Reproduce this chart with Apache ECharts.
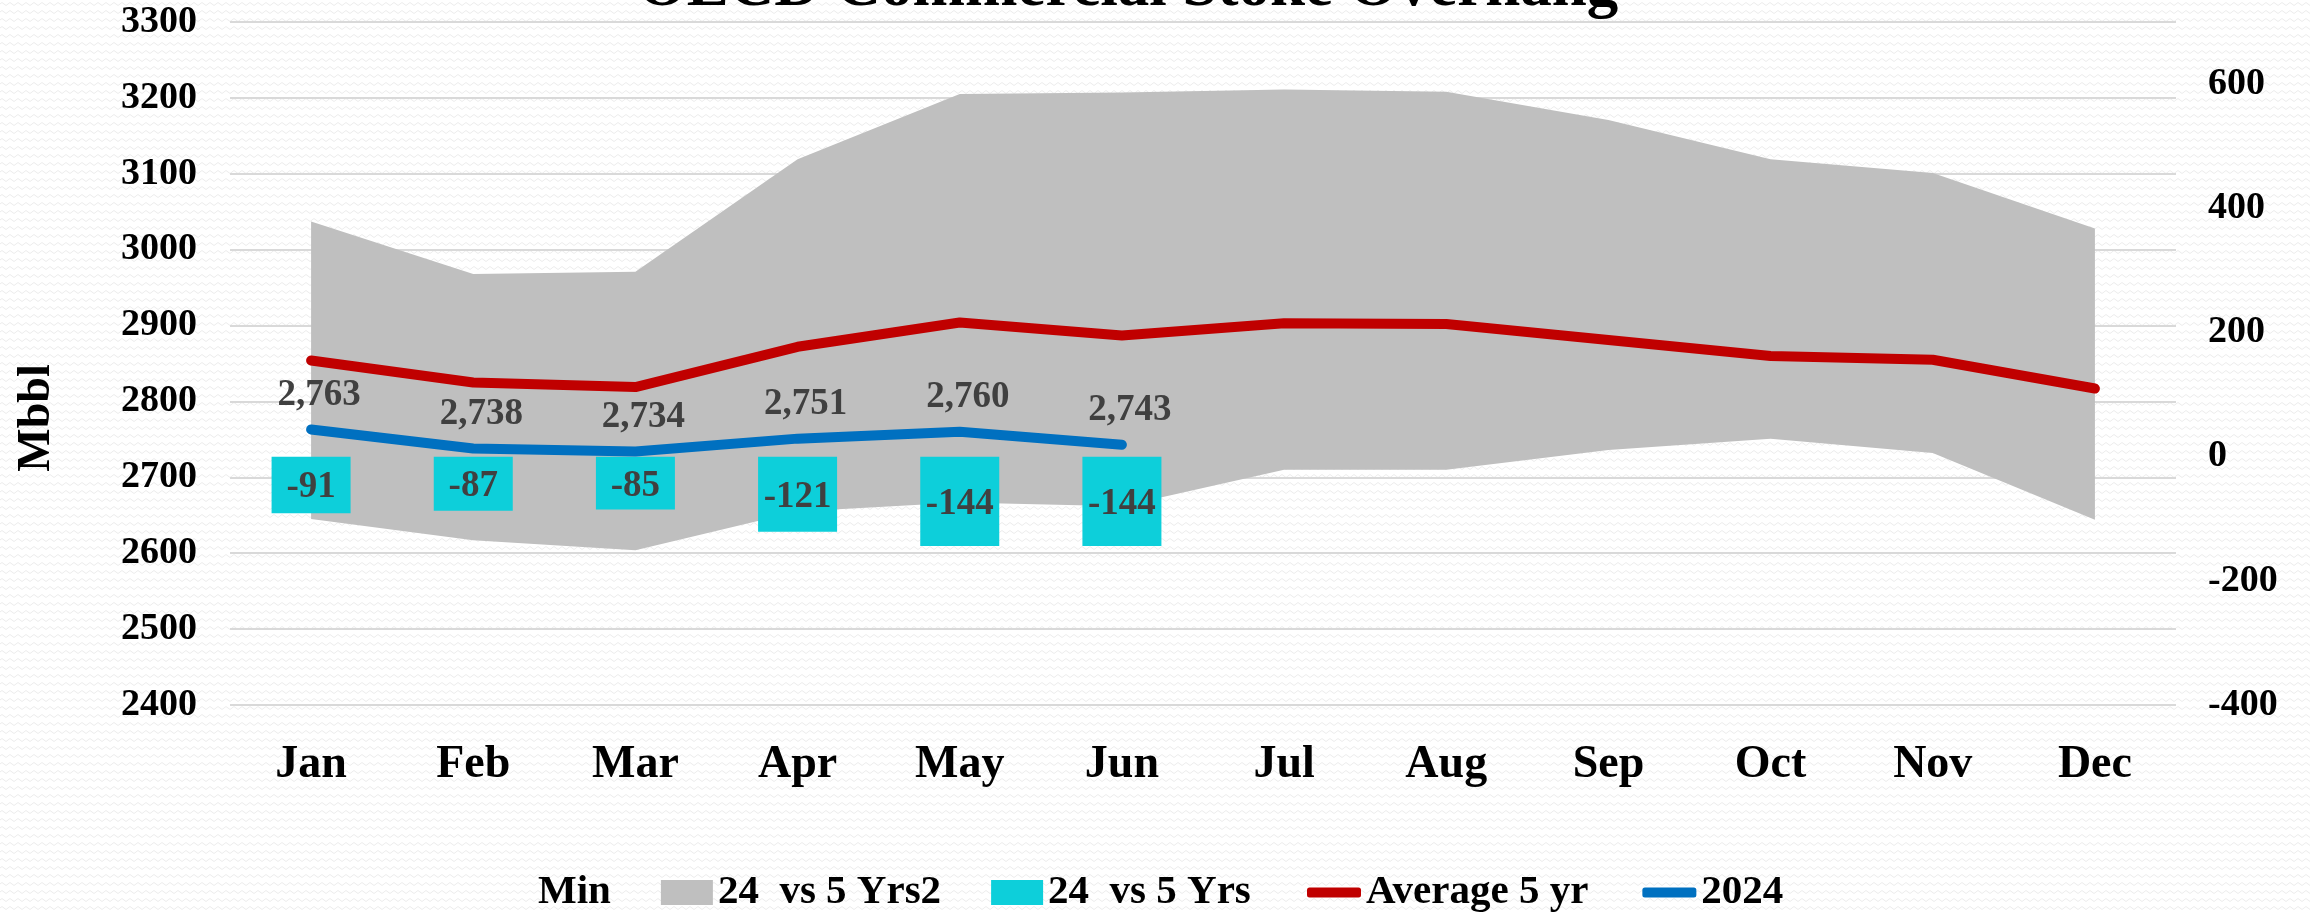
<!DOCTYPE html>
<html><head><meta charset="utf-8">
<script src="https://cdn.jsdelivr.net/npm/echarts@6/dist/echarts.min.js"></script>
<style>html,body{margin:0;padding:0;background:#fff}#c{width:2310px;height:912px}</style>
</head><body><div id="c"></div>
<script>
// ---- data ----
const months = ['Jan','Feb','Mar','Apr','May','Jun','Jul','Aug','Sep','Oct','Nov','Dec'];
const minValues = [2645, 2617, 2604, 2655, 2667, 2662, 2710, 2710, 2736, 2751, 2732, 2644];
const maxValues = [3037, 2968, 2971, 3119, 3205, 3207, 3211, 3208, 3171, 3119, 3101, 3028];
const avg5yr   = [2854, 2825, 2819, 2872, 2904, 2887, 2903, 2902, 2881, 2860, 2855, 2817];
const y2024    = [2763, 2738, 2734, 2751, 2760, 2743];
const diff2024 = [-91, -87, -85, -121, -144, -144];
const leftAxisMin = 2400, leftAxisMax = 3300, leftAxisStep = 100;
const rightAxisMin = -400, rightAxisMax = 700, rightAxisStep = 200;
const titleText = 'OECD Commercial Stoke Overhang';
const yAxisTitle = 'Mbbl';
const seriesNames = ['Min', '24  vs 5 Yrs2', '24  vs 5 Yrs', 'Average 5 yr', '2024'];

// band thickness for stacked range
const bandRange = maxValues.map((v, i) => v - minValues[i]);

// faint wavy background texture
(function(){
  const cv = document.createElement('canvas'); cv.width = 8; cv.height = 8;
  const ctx = cv.getContext('2d');
  ctx.fillStyle = '#ffffff'; ctx.fillRect(0,0,8,8);
  ctx.strokeStyle = '#ececec'; ctx.lineWidth = 1;
  ctx.beginPath(); ctx.moveTo(0,4); ctx.quadraticCurveTo(2,1,4,4); ctx.quadraticCurveTo(6,7,8,4); ctx.stroke();
  document.getElementById('c').style.backgroundImage = 'url(' + cv.toDataURL() + ')';
})();

const FONT = 'Liberation Serif';
const chart = echarts.init(document.getElementById('c'), null, {renderer: 'canvas'});
chart.setOption({
  backgroundColor: 'transparent',
  animation: false,
  textStyle: {fontFamily: FONT},
  graphic: [
    {type: 'text', x: 1128, y: -11, style: {text: titleText, font: 'bold 63px "Liberation Serif"', fill: '#000', align: 'center', verticalAlign: 'middle'}},
    {type: 'text', x: 37, y: 418, rotation: Math.PI/2, style: {text: yAxisTitle, font: 'bold 46px "Liberation Serif"', fill: '#000', align: 'center', verticalAlign: 'middle'}}
  ],
  legend: [
    {
      left: 476, top: 867, itemWidth: 52, itemHeight: 25, itemGap: 50,
      textStyle: {fontFamily: FONT, fontSize: 41, fontWeight: 'bold', color: '#000'},
      data: [
        {name: seriesNames[0], icon: 'rect', itemStyle: {color: 'rgba(0,0,0,0)'}},
        {name: seriesNames[1], icon: 'rect', itemStyle: {color: '#bfbfbf'}},
        {name: seriesNames[2], icon: 'rect', itemStyle: {color: '#0dcfda'}}
      ],
      selectedMode: false
    },
    {
      left: 1302, top: 867, itemWidth: 54, itemHeight: 10, itemGap: 54,
      textStyle: {fontFamily: FONT, fontSize: 41, fontWeight: 'bold', color: '#000'},
      data: [
        {name: seriesNames[3], icon: 'roundRect', itemStyle: {color: '#c00000'}},
        {name: seriesNames[4], icon: 'roundRect', itemStyle: {color: '#0070c0'}}
      ],
      selectedMode: false
    }
  ],
  grid: {left: 230, right: 134, top: 22, bottom: 207, containLabel: false},
  xAxis: {
    type: 'category', data: months, boundaryGap: true,
    axisLine: {show: false}, axisTick: {show: false},
    axisLabel: {fontFamily: FONT, fontSize: 46, fontWeight: 'bold', color: '#000', margin: 37}
  },
  yAxis: [
    {
      type: 'value', min: leftAxisMin, max: leftAxisMax, interval: leftAxisStep,
      axisLine: {show: false}, axisTick: {show: false},
      splitLine: {show: true, lineStyle: {color: '#d9d9d9', width: 2}},
      axisLabel: {fontFamily: FONT, fontSize: 38, fontWeight: 'bold', color: '#000', margin: 33, formatter: v => String(v)}
    },
    {
      type: 'value', min: rightAxisMin, max: rightAxisMax, interval: rightAxisStep, position: 'right',
      axisLine: {show: false}, axisTick: {show: false}, splitLine: {show: false},
      axisLabel: {fontFamily: FONT, fontSize: 38, fontWeight: 'bold', color: '#000', margin: 32, showMaxLabel: false, formatter: v => String(v)}
    }
  ],
  series: [
    {
      name: seriesNames[0], type: 'line', stack: 'band', yAxisIndex: 0, data: minValues,
      symbol: 'none', lineStyle: {width: 0, opacity: 0}, areaStyle: {opacity: 0},
      itemStyle: {color: 'rgba(0,0,0,0)'}, silent: true, z: 1
    },
    {
      name: seriesNames[1], type: 'line', stack: 'band', yAxisIndex: 0, data: bandRange,
      symbol: 'none', lineStyle: {width: 0, opacity: 0}, areaStyle: {color: '#bfbfbf', opacity: 1},
      itemStyle: {color: '#bfbfbf'}, silent: true, z: 1
    },
    {
      name: seriesNames[2], type: 'bar', yAxisIndex: 1, data: diff2024, barWidth: 79,
      itemStyle: {color: '#0dcfda'}, z: 2,
      label: {show: true, position: 'inside', offset: [0, 3], fontFamily: FONT, fontSize: 37, fontWeight: 'bold', color: '#404040'}
    },
    {
      name: seriesNames[3], type: 'line', yAxisIndex: 0, data: avg5yr, symbol: 'none',
      lineStyle: {color: '#c00000', width: 10, cap: 'round', join: 'round'}, itemStyle: {color: '#c00000'}, z: 3
    },
    {
      name: seriesNames[4], type: 'line', yAxisIndex: 0, data: y2024, symbol: 'circle', symbolSize: 4, showSymbol: true,
      lineStyle: {color: '#0070c0', width: 10, cap: 'round', join: 'round'}, itemStyle: {color: '#0070c0'}, z: 4,
      label: {show: true, position: 'top', distance: 14, offset: [8, 0], fontFamily: FONT, fontSize: 37, fontWeight: 'bold', color: '#404040',
        formatter: p => Number(p.value).toLocaleString('en-US')}
    }
  ]
});
</script>
</body></html>
